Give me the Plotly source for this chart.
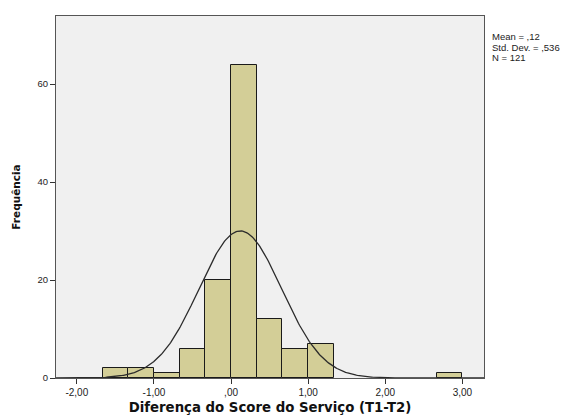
import numpy as np
import plotly.graph_objects as go

# Histogram of the service-score difference (T1 - T2)
BIN_WIDTH = 1 / 3
bin_starts = [-5/3, -4/3, -1.0, -2/3, -1/3, 0.0, 1/3, 2/3, 1.0, 8/3]
counts = [2, 2, 1, 6, 20, 64, 12, 6, 7, 1]

# Summary statistics shown in the corner
MEAN = 0.12
STD_DEV = 0.536
N = 121

x_tick_vals = [-2, -1, 0, 1, 2, 3]
x_tick_text = ["-2,00", "-1,00", ",00", "1,00", "2,00", "3,00"]
y_tick_vals = [0, 20, 40, 60]

X_RANGE = [-2.27, 3.28]
Y_RANGE = [0, 73.9]

bar_centers = [s + BIN_WIDTH / 2 for s in bin_starts]

# Fitted normal curve scaled to the histogram counts
xc = np.linspace(X_RANGE[0], X_RANGE[1], 400)
yc = N * BIN_WIDTH * np.exp(-0.5 * ((xc - MEAN) / STD_DEV) ** 2) / (STD_DEV * np.sqrt(2 * np.pi))

fig = go.Figure()
fig.add_trace(go.Bar(
    x=bar_centers, y=counts, width=BIN_WIDTH,
    marker=dict(color="#D3CE97", line=dict(color="#1a1a1a", width=1)),
    hoverinfo="x+y",
))
fig.add_trace(go.Scatter(
    x=xc, y=yc, mode="lines",
    line=dict(color="#2b2b2b", width=1.3),
    hoverinfo="skip",
))

sans = "Liberation Sans, Arial, sans-serif"
title_font_family = "DejaVu Sans, Verdana, sans-serif"

fig.update_layout(
    width=571, height=415,
    margin=dict(l=56, r=87, t=16, b=37),
    paper_bgcolor="white",
    plot_bgcolor="#F0F0F0",
    showlegend=False,
    bargap=0,
    xaxis=dict(
        range=X_RANGE, tickvals=x_tick_vals, ticktext=x_tick_text,
        ticks="outside", ticklen=5, tickcolor="#333", tickwidth=1,
        showgrid=False, zeroline=False,
        showline=True, linecolor="#555", linewidth=1.2, mirror=True,
        tickfont=dict(family=sans, size=10, color="#222"),
        title=dict(text="<b>Diferença do Score do Serviço (T1-T2)</b>",
                   font=dict(family=title_font_family, size=13.3, color="#111"),
                   standoff=5),
        automargin=False,
    ),
    yaxis=dict(
        range=Y_RANGE, tickvals=y_tick_vals,
        ticks="outside", ticklen=5, tickcolor="#333", tickwidth=1,
        showgrid=False, zeroline=False,
        showline=True, linecolor="#555", linewidth=1.2, mirror=True,
        tickfont=dict(family=sans, size=9.5, color="#222"),
        title=dict(text="<b>Frequência</b>",
                   font=dict(family=title_font_family, size=10.5, color="#111"),
                   standoff=14),
        automargin=False,
    ),
)

# Statistics box at the upper right, outside the plotting area
stat_lines = [f"Mean = ,{int(round(MEAN * 100)):02d}",
              f"Std. Dev. = ,{int(round(STD_DEV * 1000)):03d}",
              f"N = {N}"]
for i, line in enumerate(stat_lines):
    fig.add_annotation(
        xref="paper", yref="paper", x=1.0, y=1.0,
        xanchor="left", yanchor="top", xshift=6, yshift=-13 - 10.5 * i,
        text=line, showarrow=False, align="left",
        font=dict(family=sans, size=9.5, color="#222"),
    )

fig.write_html("out.html")
